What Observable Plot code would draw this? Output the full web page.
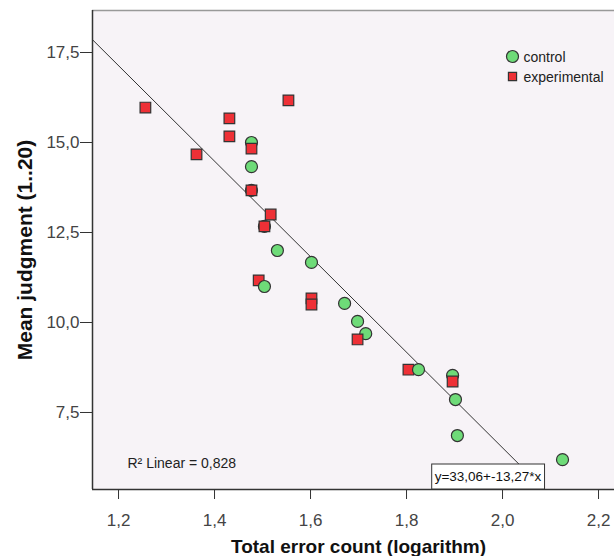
<!DOCTYPE html>
<html>
<head>
<meta charset="utf-8">
<script src="https://cdn.jsdelivr.net/npm/d3@7"></script>
<script src="https://cdn.jsdelivr.net/npm/@observablehq/plot@0.6"></script>
<style>
  html, body { margin: 0; padding: 0; background: #fff; }
  #chart svg { display: block; font-family: "Liberation Sans", Arial, sans-serif; }
</style>
</head>
<body>
<div id="chart"></div>
<script>
// ---- data ----
const groups = ["control", "experimental"];
const controlX = [1.477, 1.477, 1.477, 1.504, 1.531, 1.602, 1.504, 1.671, 1.698, 1.715, 1.825, 1.896, 1.902, 1.906, 2.125];
const controlY = [15.0, 14.33, 13.67, 12.67, 12.0, 11.67, 11.0, 10.53, 10.03, 9.69, 8.69, 8.53, 7.86, 6.86, 6.19];
const experimentalX = [1.256, 1.3625, 1.431, 1.431, 1.554, 1.477, 1.477, 1.517, 1.504, 1.492, 1.602, 1.602, 1.698, 1.804, 1.896];
const experimentalY = [15.97, 14.67, 15.67, 15.17, 16.17, 14.83, 13.67, 13.0, 12.67, 11.17, 10.67, 10.5, 9.53, 8.69, 8.36];
const controlDrawnLast = [6, 10]; // control points that sit on top of squares
const fitIntercept = 33.06;
const fitSlope = -13.27;
const rSquared = "0,828";
const xTicks = [1.2, 1.4, 1.6, 1.8, 2.0, 2.2];
const yTicks = [7.5, 10.0, 12.5, 15.0, 17.5];
const xDomain = [1.1458, 2.2333];
const yDomain = [5.361, 18.667];
const xTitle = "Total error count (logarithm)";
const yTitle = "Mean judgment (1..20)";

// ---- build tables ----
const control = controlX.map((x, i) => ({x, y: controlY[i], group: "control", i}));
const experimental = experimentalX.map((x, i) => ({x, y: experimentalY[i], group: "experimental", i}));
const points = [
  ...control.filter(d => !controlDrawnLast.includes(d.i)),
  ...experimental,
  ...control.filter(d => controlDrawnLast.includes(d.i))
];
const fitLine = xDomain.map(x => ({x, y: fitIntercept + fitSlope * x}));
const fmt = d => d3.format(".1f")(d).replace(".", ",");
function fmt2(v) { return d3.format(".2f")(v).replace(".", ",").replace("−", "-"); }
const eqLabel = `y=${fmt2(fitIntercept)}+${fmt2(fitSlope)}*x`;

const green = "#6edb78";
const red = "#ee3036";
const stroke = "#333";

const chart = Plot.plot({
  width: 614,
  height: 556,
  marginLeft: 92,
  marginRight: 0,
  marginTop: 10,
  marginBottom: 67,
  style: {fontFamily: "'Liberation Sans', Arial, sans-serif", background: "#fff"},
  x: {domain: xDomain, ticks: xTicks, tickFormat: fmt},
  y: {domain: yDomain, ticks: yTicks, tickFormat: fmt},
  color: {domain: groups, range: [green, red]},
  symbol: {domain: groups, range: ["circle", "square"]},
  marks: [
    Plot.frame({fill: "#f7f3f7", stroke: null}),
    Plot.ruleY([yDomain[1]], {stroke: "#999", strokeWidth: 1.5}),
    Plot.line(fitLine, {x: "x", y: "y", stroke: "#333", strokeWidth: 1, clip: "frame"}),
    Plot.dot(points, {x: "x", y: "y", fill: "group", symbol: "group", r: 6, stroke: stroke, strokeWidth: 1.2}),
    Plot.ruleX([xDomain[0]], {stroke: "#333", strokeWidth: 1.5}),
    Plot.ruleY([yDomain[0]], {stroke: "#333", strokeWidth: 1.5}),
    Plot.axisX({ticks: xTicks, tickFormat: fmt, tickSize: 10, tickPadding: 14, fontSize: 17, fill: "#444", stroke: "#333", label: null}),
    Plot.axisY({ticks: yTicks, tickFormat: fmt, tickSize: 12, tickPadding: 1, fontSize: 17, fill: "#444", stroke: "#333", label: null}),
    Plot.text([xTitle], {frameAnchor: "bottom", dx: 5, dy: 57, text: d => d, fontSize: 19, fontWeight: "bold", fill: "#111", textAnchor: "middle", lineAnchor: "middle"}),
    Plot.text([yTitle], {frameAnchor: "left", dx: -67, rotate: -90, text: d => d, fontSize: 21, fontWeight: "bold", fill: "#111", textAnchor: "middle", lineAnchor: "middle"}),
    // legend
    Plot.dot([groups[0]], {frameAnchor: "top-left", dx: 420, dy: 46, r: 6, fill: green, stroke: stroke, strokeWidth: 1.2}),
    Plot.dot([groups[1]], {frameAnchor: "top-left", dx: 420, dy: 66, r: 4.6, symbol: "square", fill: red, stroke: stroke, strokeWidth: 1.2}),
    Plot.text(groups, {frameAnchor: "top-left", text: d => d, fontSize: 14, fill: "#222", textAnchor: "start", lineAnchor: "middle"}),
    // annotations
    Plot.text([`R² Linear = ${rSquared}`], {frameAnchor: "bottom-left", dx: 35, dy: -26, text: d => d, fontSize: 14, fill: "#222", textAnchor: "start", lineAnchor: "middle"}),
    Plot.text([eqLabel], {frameAnchor: "bottom-right", dx: -126.5, dy: -13, text: d => d, fontSize: 13.5, fill: "#111", textAnchor: "middle", lineAnchor: "middle"})
  ]
});
document.getElementById("chart").appendChild(chart);

// position legend labels (two rows, beside the legend symbols)
chart.querySelectorAll("text").forEach(t => {
  if (t.textContent === groups[0]) { t.setAttribute("transform", "translate(523,57)"); }
  if (t.textContent === groups[1]) { t.setAttribute("transform", "translate(523,77)"); }
});
// white box behind the equation
chart.querySelectorAll("text").forEach(t => {
  if (t.textContent === eqLabel) {
    const b = t.getBBox();
    const ctm = t.getCTM();
    const x0 = b.x + (ctm ? ctm.e : 0);
    const r = document.createElementNS("http://www.w3.org/2000/svg", "rect");
    r.setAttribute("x", x0 - 3);
    r.setAttribute("y", 464);
    r.setAttribute("width", b.width + 6);
    r.setAttribute("height", 489 - 464);
    r.setAttribute("fill", "#fff");
    r.setAttribute("stroke", "#333");
    r.setAttribute("stroke-width", 1);
    const g = t.closest("g");
    g.parentNode.insertBefore(r, g);
  }
});
</script>
</body>
</html>
